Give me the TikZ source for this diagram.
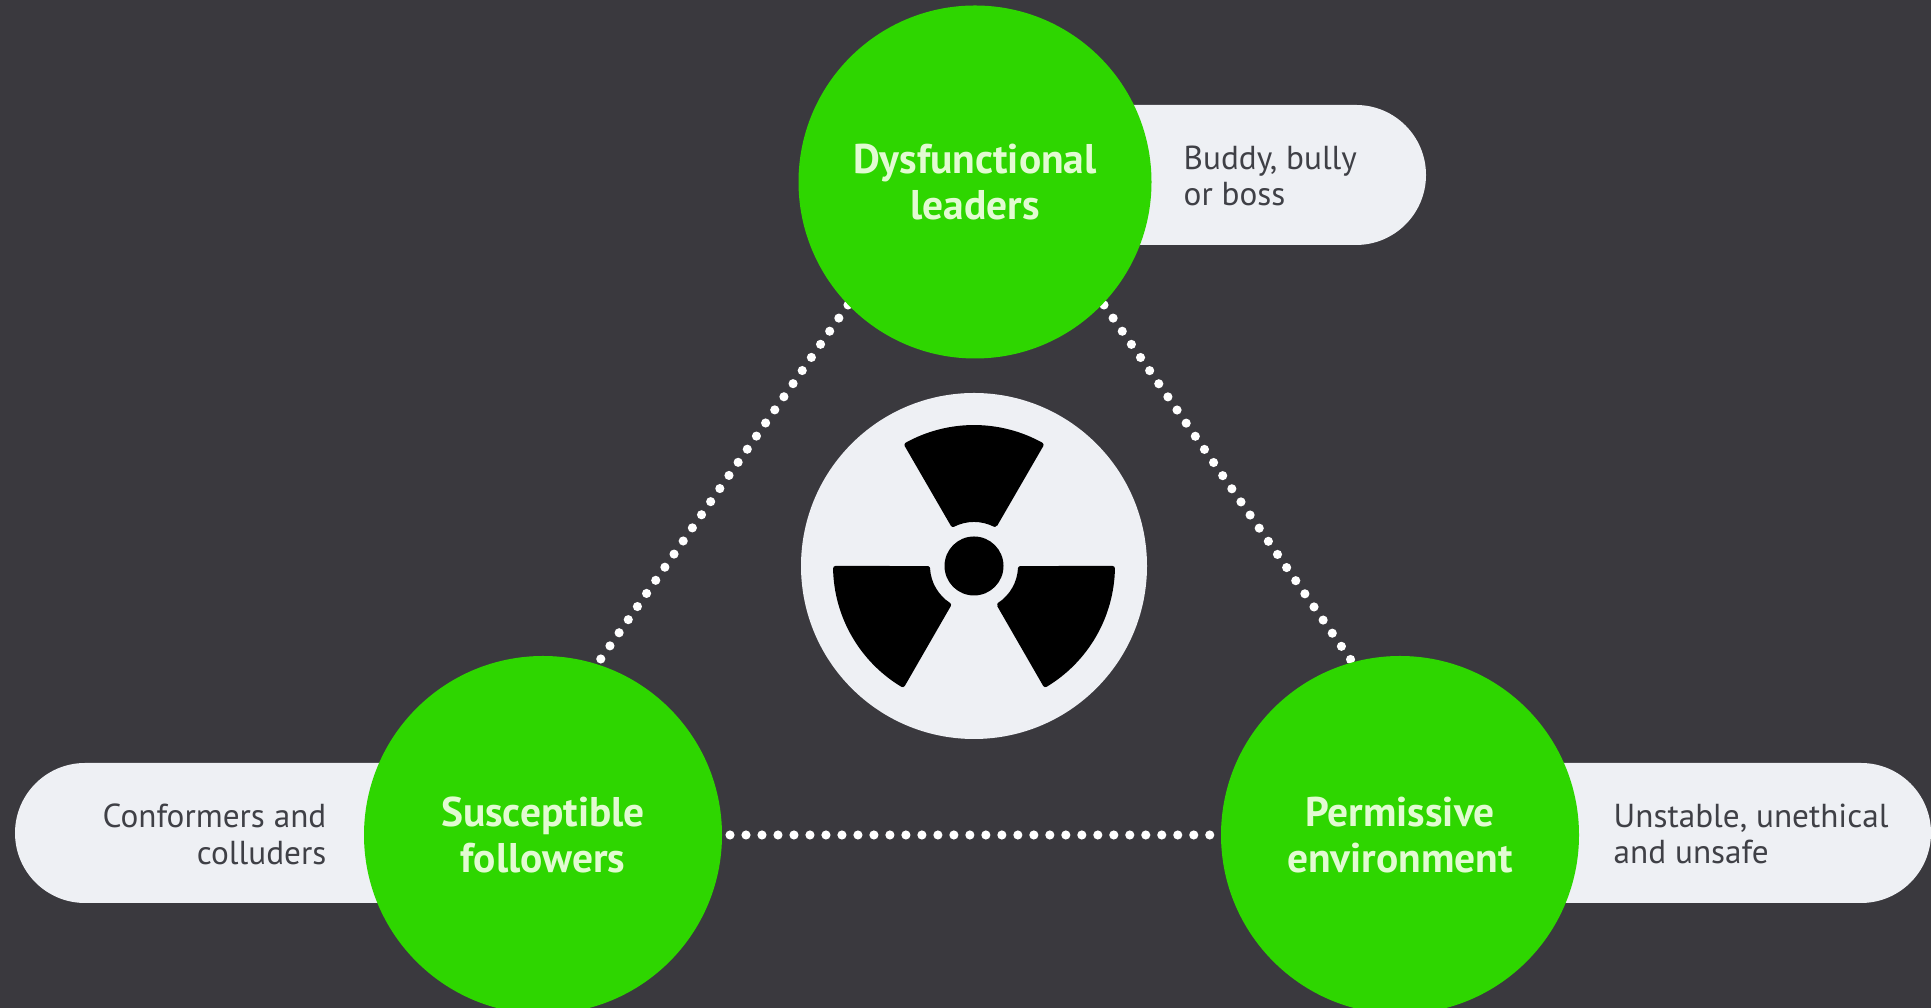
\documentclass[tikz,border=0pt]{standalone}
\usepackage{fontspec}
\setmainfont{PT Sans}
\usepackage{xcolor}
\usetikzlibrary{calc}
\definecolor{slate}{HTML}{3A393E}
\definecolor{leafgreen}{HTML}{2ED600}
\definecolor{palegrey}{HTML}{EEF0F4}
\definecolor{palegreen}{HTML}{E2FBD2}
\definecolor{inkgrey}{HTML}{3F4046}
\tikzset{
    factor/.style={circle, fill=leafgreen, minimum size=3.58cm, inner sep=0pt, align=center, text=palegreen, font=\bfseries\fontsize{11.8}{13.1}\selectfont},
    note/.style={text=inkgrey, inner sep=0pt, font=\fontsize{9.45}{10.5}\selectfont},
    dotline/.style={white, line width=2.6pt, line cap=round, dash pattern=on 0pt off 4.55pt},
    blade/.style={black, line width=1.4pt, line join=round},
}

\begin{document}
\begin{tikzpicture}
                \useasboundingbox (0,0) rectangle (19.31,10.08);
                \fill[slate] (0,0) rectangle (19.31,10.08);
                % pills behind the circles
                \fill[palegrey, rounded corners=0.7cm] (9.8,7.63) rectangle (14.26,9.03);
                \fill[palegrey, rounded corners=0.7cm] (0.15,1.05) rectangle (5.4,2.45);
                \fill[palegrey, rounded corners=0.7cm] (14.0,1.05) rectangle (19.31,2.45);
                % the three factors
                \coordinate (topend1) at (8.48,7.03);
                \coordinate (topend2) at (11.04,7.03);
                \coordinate (leftend) at (5.98,3.45);
                \coordinate (rightend) at (13.53,3.45);
                \coordinate (baseend1) at (7.30,1.73);
                \coordinate (baseend2) at (12.22,1.73);
                \draw[dotline] (topend1) -- (leftend);
                \draw[dotline] (topend2) -- (rightend);
                \draw[dotline] (baseend1) -- (baseend2);
                \node[factor, minimum size=3.53cm] (leaders) at (9.75,8.26) {Dysfunctional\\leaders};
                \node[factor] (followers) at (5.43,1.73) {Susceptible\\followers};
                \node[factor] (environment) at (14.0,1.73) {Permissive\\environment};
                % notes
                \node[note, align=left, anchor=west] (leadersnote) at (11.83,8.32) {Buddy, bully\\or boss};
                \node[note, align=right, anchor=east] (followersnote) at (3.27,1.74) {Conformers and\\colluders};
                \node[note, align=left, anchor=west] (environmentnote) at (16.13,1.74) {Unstable, unethical\\and unsafe};
                % radiation sign
                \node[circle, fill=palegrey, minimum size=3.46cm, inner sep=0pt] (sign) at (9.74,4.42) {};
                \fill[black] (sign.center) circle (0.295);
                \foreach \a in {90,210,330}{
                    \filldraw[blade] ($(sign.center)+(\a-26.9:0.465)$) -- ($(sign.center)+(\a-29:1.385)$) arc[start angle=\a-29, end angle=\a+29, radius=1.385] -- ($(sign.center)+(\a+26.9:0.465)$) arc[start angle=\a+26.9, end angle=\a-26.9, radius=0.465] -- cycle;
                }
            \end{tikzpicture}
\end{document}
